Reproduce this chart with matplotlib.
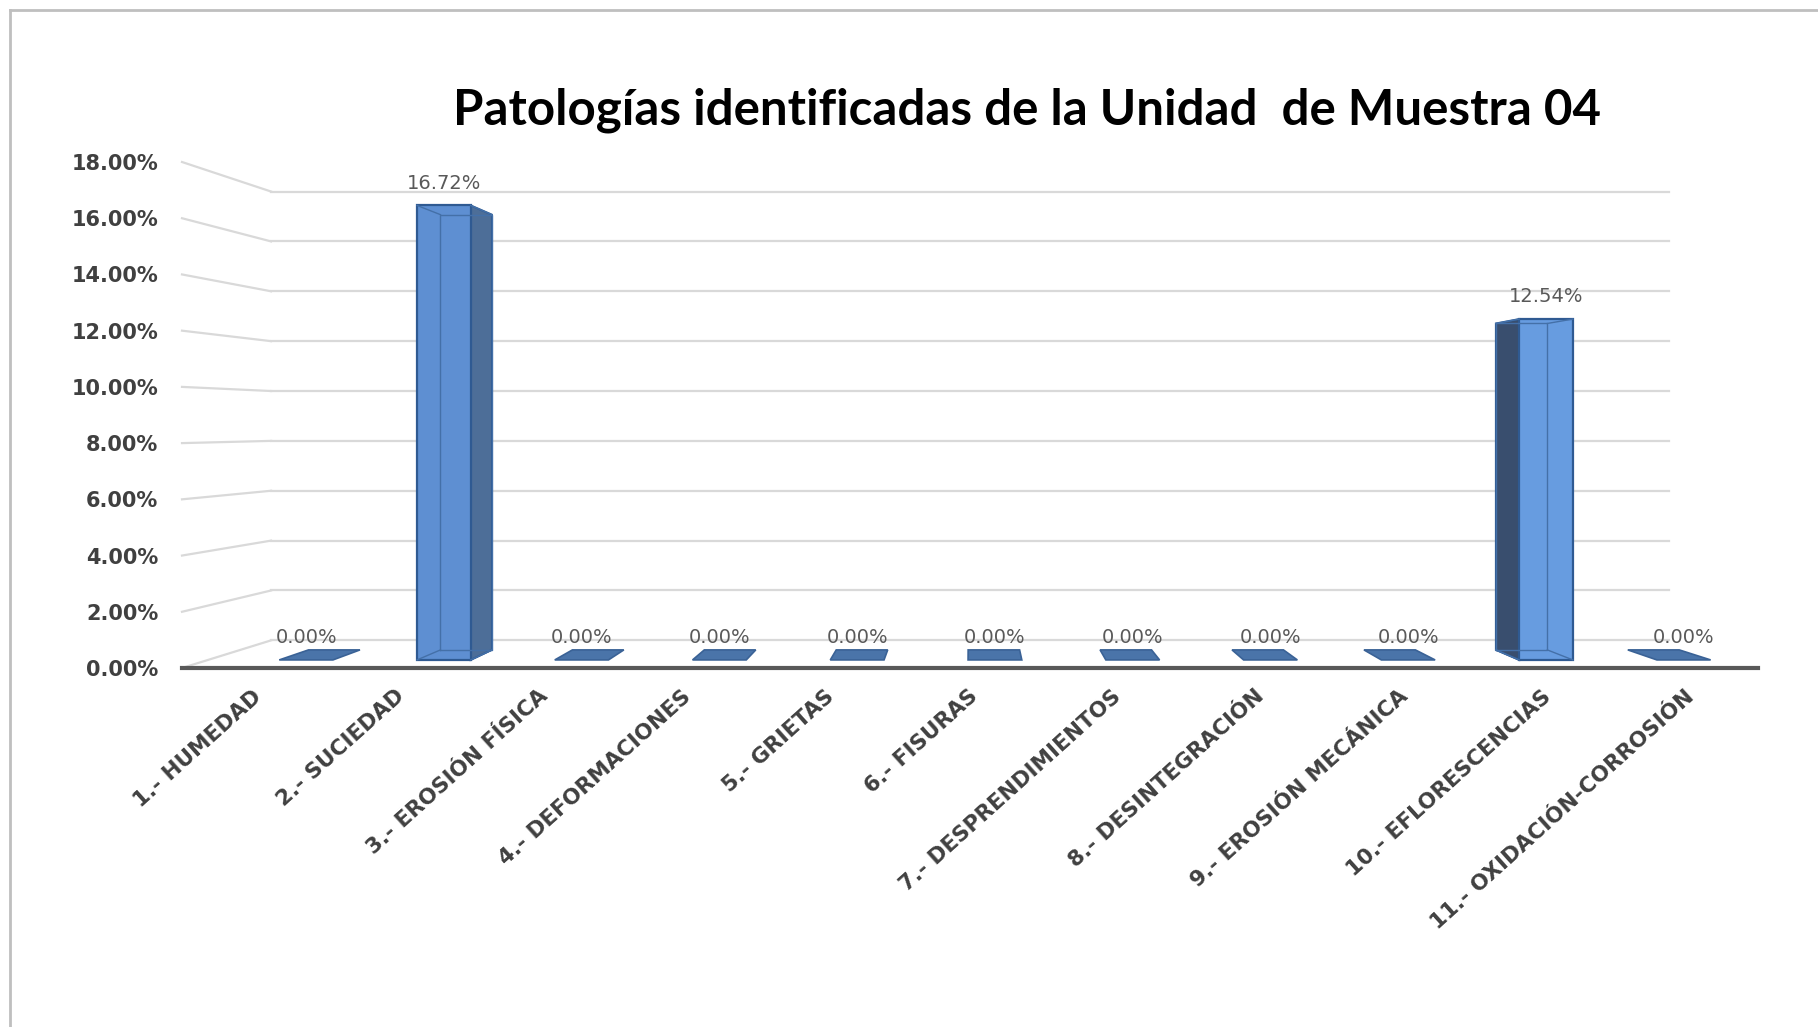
import numpy as np
import matplotlib
matplotlib.use("Agg")
import matplotlib.pyplot as plt
from matplotlib.patches import Polygon
from matplotlib.lines import Line2D

# data
categories = [
    "1.- HUMEDAD", "2.- SUCIEDAD", "3.- EROSIÓN FÍSICA", "4.- DEFORMACIONES",
    "5.- GRIETAS", "6.- FISURAS", "7.- DESPRENDIMIENTOS", "8.- DESINTEGRACIÓN",
    "9.- EROSIÓN MECÁNICA", "10.- EFLORESCENCIAS", "11.- OXIDACIÓN-CORROSIÓN",
]
values = [0.00, 16.72, 0.00, 0.00, 0.00, 0.00, 0.00, 0.00, 0.00, 12.54, 0.00]
yticks = np.arange(0, 19, 2)
title = "Patologías identificadas de la Unidad  de Muestra 04"

# fake perspective: homothety towards a vanishing point (data units)
VPX, VPY = 4.82, 8.7
F_WALL = 0.887           # back wall
F_FRONT, F_BACK = 0.967, 0.926   # bar front / back planes
F_LABEL = 1.006          # category labels sit slightly in front of the axis
HW = 0.195               # half bar width
XLO, XHI = -0.712, 10.35


def proj(x, y, f):
    return VPX + (x - VPX) * f, VPY + (y - VPY) * f


fig = plt.figure(figsize=(18.18, 10.27), dpi=100)
ax = fig.add_axes([182 / 1818, 1 - 668 / 1027, 1576 / 1818, 506 / 1027])
ax.set_xlim(XLO, XHI)
ax.set_ylim(0, 18)
for s in ax.spines.values():
    s.set_visible(False)

# grid: back wall + left wall
grid_c = "#d9d9d9"
for v in yticks:
    x0, y0 = proj(XLO, v, F_WALL)
    x1, y1 = proj(XHI, v, F_WALL)
    ax.plot([x0, x1], [y0, y1], color=grid_c, lw=1.6, zorder=1, clip_on=False)
    ax.plot([XLO, x0], [v, y0], color=grid_c, lw=1.6, zorder=1, clip_on=False)

ax.plot([XLO, XHI], [0, 0], color="#595959", lw=3, zorder=6, clip_on=False)

edge_c = "#2f5a92"
for i, v in enumerate(values):
    fb = [proj(i - HW, 0, F_FRONT), proj(i + HW, 0, F_FRONT),
          proj(i + HW, v, F_FRONT), proj(i - HW, v, F_FRONT)]
    bb = [proj(i - HW, 0, F_BACK), proj(i + HW, 0, F_BACK),
          proj(i + HW, v, F_BACK), proj(i - HW, v, F_BACK)]
    if v == 0:
        flat = [fb[0], fb[1], bb[1], bb[0]]
        ax.add_patch(Polygon(flat, closed=True, fc="#4a74a9", ec="#3a6296",
                             lw=1.2, zorder=4, clip_on=False))
    else:
        front_c = "#5e8fd2" if i < VPX else "#679ce0"
        # floor of the bar
        ax.add_patch(Polygon([fb[0], fb[1], bb[1], bb[0]], closed=True,
                             fc=front_c, ec=edge_c, lw=1.0, zorder=3,
                             clip_on=False))
        # visible side
        if i < VPX:
            side = [fb[1], fb[2], bb[2], bb[1]]
            side_c = "#4d6e98"
        else:
            side = [fb[0], fb[3], bb[3], bb[0]]
            side_c = "#394e6e"
        ax.add_patch(Polygon(side, closed=True, fc=side_c, ec=edge_c,
                             lw=1.4, zorder=4, clip_on=False))
        ax.add_patch(Polygon(fb, closed=True, fc=front_c, ec=edge_c,
                             lw=1.6, zorder=5, clip_on=False))
        # back edges seen through the translucent front
        xs = [p[0] for p in bb] + [bb[0][0]]
        ys = [p[1] for p in bb] + [bb[0][1]]
        ax.plot(xs, ys, color="#4470a8", lw=1.0, zorder=5, clip_on=False)
        for a, b in zip(fb, bb):
            ax.plot([a[0], b[0]], [a[1], b[1]], color="#4470a8", lw=1.0,
                    zorder=5, clip_on=False)

    tx, ty = proj(i, v, F_FRONT)
    ax.annotate(f"{v:.2f}%", xy=(tx, ty), xytext=(0, 16),
                textcoords="offset points", ha="center", va="center",
                fontsize=14, color="#595959", zorder=7)

    lx, _ = proj(i, 0, F_LABEL)
    ax.annotate(categories[i], xy=(lx, 0), xytext=(-20, -13),
                textcoords="offset points", ha="right", va="top",
                rotation=42, rotation_mode="anchor", fontsize=15.5,
                fontweight="bold", color="#404040", annotation_clip=False)

ax.set_xticks([])
ax.set_yticks(yticks)
ax.set_yticklabels([f"{t:.2f}%" for t in yticks], fontsize=15,
                   fontweight="bold", color="#404040")
ax.tick_params(axis="y", length=0, pad=17)

fig.text(1027 / 1818, 1 - 110 / 1027, title, ha="center", va="center",
         fontsize=35.5, fontweight="bold", family="Lato", color="black")

# chart frame (top and left edges visible)
fig.add_artist(Line2D([10 / 1818, 1], [1 - 10 / 1027] * 2, color="#bfbfbf",
                      lw=2, transform=fig.transFigure))
fig.add_artist(Line2D([10 / 1818] * 2, [0, 1 - 10 / 1027], color="#bfbfbf",
                      lw=2, transform=fig.transFigure))

fig.savefig("out.png", dpi=100, facecolor="white")
